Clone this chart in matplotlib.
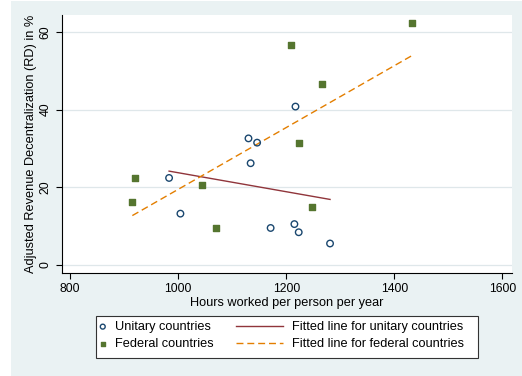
import matplotlib
matplotlib.use('Agg')
import matplotlib.pyplot as plt
from matplotlib.patches import Rectangle
import numpy as np

plt.rcParams['font.family'] = ['Liberation Sans', 'DejaVu Sans']

# hours worked per person per year vs adjusted revenue decentralization
unitary_hours = [983, 1004, 1130, 1146, 1134, 1217, 1171, 1215, 1223, 1281]
unitary_rd = [22.4, 13.2, 32.6, 31.5, 26.2, 40.8, 9.5, 10.5, 8.4, 5.5]
federal_hours = [919, 915, 1044, 1070, 1208, 1266, 1223, 1248, 1432]
federal_rd = [22.4, 16.1, 20.6, 9.5, 56.8, 46.6, 31.5, 15.0, 62.3]

x_ticks = [800, 1000, 1200, 1400, 1600]
y_ticks = [0, 20, 40, 60]

bg = '#eaf2f3'
fs = 9.2
W, H = 522, 376
fig = plt.figure(figsize=(W / 100, H / 100), dpi=100, facecolor='white')
# graph region background (thin white margin left and top)
fig.add_artist(Rectangle((11 / W, 0), 1 - 11 / W, 1 - 1 / H, transform=fig.transFigure,
                         facecolor=bg, edgecolor='none', zorder=-1))

ax = fig.add_axes([0.119, 0.274, 0.862, 0.686])
ax.set_facecolor('white')

p_uni = ax.scatter(unitary_hours, unitary_rd, s=22, facecolors='none', edgecolors='#1a476f',
                   linewidths=1.0, label='Unitary countries', zorder=3)
p_fed = ax.scatter(federal_hours, federal_rd, s=13, marker='s', color='#55752f',
                   label='Federal countries', zorder=3)

# linear fits per group
b, a = np.polyfit(unitary_hours, unitary_rd, 1)
xu = np.array([min(unitary_hours), max(unitary_hours)])
l_uni, = ax.plot(xu, a + b * xu, color='#90353b', lw=1.0,
                 label='Fitted line for unitary countries')

b, a = np.polyfit(federal_hours, federal_rd, 1)
xf = np.array([min(federal_hours), max(federal_hours)])
l_fed, = ax.plot(xf, a + b * xf, color='#e37e00', lw=1.0, ls=(0, (5, 2.8)),
                 label='Fitted line for federal countries')

ax.set_xlim(785, 1618)
ax.set_ylim(-2.1, 64.4)
ax.set_xticks(x_ticks)
ax.set_yticks(y_ticks)
ax.tick_params(labelsize=8.8, direction='out', length=4, width=0.8, color='black')
plt.setp(ax.get_yticklabels(), rotation=90, va='center')
ax.grid(axis='y', color='#dfe7ea', lw=0.9)
ax.set_axisbelow(True)
for s in ['top', 'right']:
    ax.spines[s].set_visible(False)
for s in ['left', 'bottom']:
    ax.spines[s].set_color('black')
    ax.spines[s].set_linewidth(0.8)

ax.set_xlabel('Hours worked per person per year', fontsize=fs, labelpad=1)
ax.set_ylabel('Adjusted Revenue Decentralization (RD) in %', fontsize=fs, labelpad=2)

# legend: markers column and lines column inside one frame
common = dict(loc='upper left', frameon=False, fontsize=fs, borderpad=0,
              borderaxespad=0, labelspacing=0.42)
leg1 = fig.legend([p_uni, p_fed], ['Unitary countries', 'Federal countries'],
                  bbox_to_anchor=(97 / W, 1 - 321 / H), handlelength=0.9,
                  handletextpad=0.5, markerscale=0.75, **common)
leg2 = fig.legend([l_uni, l_fed], ['Fitted line for unitary countries', 'Fitted line for federal countries'],
                  bbox_to_anchor=(236 / W, 1 - 321 / H), handlelength=3.7,
                  handletextpad=0.65, **common)
fig.add_artist(Rectangle((95.5 / W, 1 - 358 / H), 382 / W, 42.3 / H,
                         transform=fig.transFigure, facecolor='white',
                         edgecolor='#333333', lw=0.8, zorder=0))

fig.savefig('out.png', dpi=100, facecolor='white')
